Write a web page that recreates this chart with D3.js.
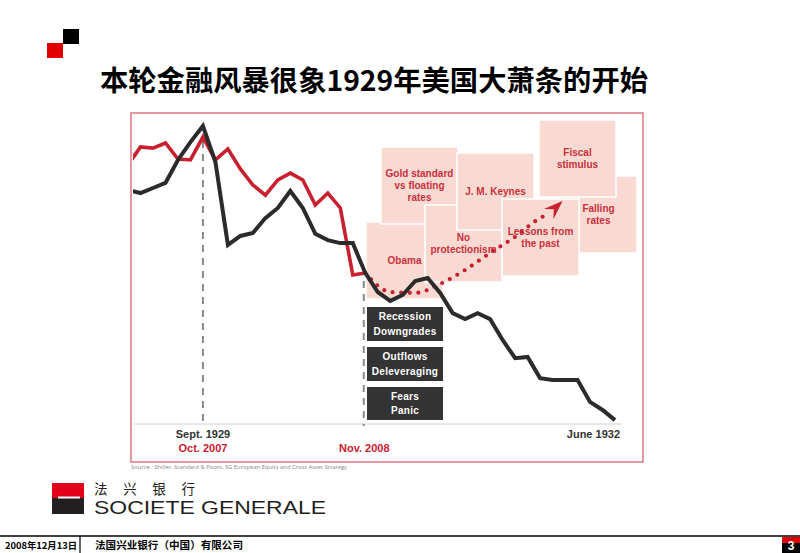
<!DOCTYPE html>
<html><head><meta charset="utf-8">
<script src="https://cdn.jsdelivr.net/npm/d3@7"></script>
<style>body{margin:0;background:#fff}svg{display:block}</style>
</head><body>
<svg id="c" width="800" height="553"></svg>
<script>
// ---------- DATA ----------
// months relative to the peak (Sept 1929 = 0, Oct 2007 = 0); index, peak of 1929 = 100
const months1929 = d3.range(-6, 34);
const index1929 = [78.5,77.5,79.2,80.9,88.6,94.6,100,87.9,60.1,63.1,64.1,69.1,72.5,78.2,72.5,63.8,61.7,60.7,60.7,50.7,
                   44.3,41.3,43.3,48.0,49.0,44.0,37.2,35.2,37.2,35.2,28.2,22.1,22.5,15.4,14.8,14.8,14.8,7.4,4.7,1.3];
const months2007 = d3.range(-6, 14);
const index2007 = [86.9,93.0,92.6,94.3,88.9,88.6,96.3,88.6,92.3,85.6,80.2,76.8,81.9,84.2,81.9,73.5,77.5,72.5,50.0,50.7];
const projMonths = [13,15,17,19,21,23,25,27,27.7];
const projIndex  = [50.7,44.3,44.0,47.0,51.7,57.4,62.8,69.1,70.5];
const arrowTip = [28.8, 74.8];

const tickMonths = [0, 13, 33];
const tickLabels1929 = ["Sept. 1929", "", "June 1932"];
const tickLabels2007 = ["Oct. 2007", "Nov. 2008", ""];

const hopeLabels = [["Obama"],["Gold standard","vs floating","rates"],["No","protectionism"],["J. M. Keynes"],
                    ["Falling","rates"],["Lessons from","the past"],["Fiscal","stimulus"]];
const fearLabels = [["Recession","Downgrades"],["Outflows","Deleveraging"],["Fears","Panic"]];

const titleText = "本轮金融风暴很象1929年美国大萧条的开始";
const sourceText = "Source : Shiller, Standard & Poors, SG European Equity and Cross Asset Strategy";

// ---------- LAYOUT ----------
const hopeBoxes = [[366,222],[381,147],[425,205],[457,153],[560,176],[502,199],[539,120]];
const boxW = 77, boxH = 77;
const fearBoxes = [[367,307,34],[367,347,34],[367,387,33]];

const RED = "#c8202f", DARK = "#2b2b2b", PINK = "#f9dad2", PINKTXT = "#c9303e";
const svg = d3.select("#c");

// corner squares
svg.append("rect").attr("x",63).attr("y",29).attr("width",16).attr("height",15).attr("fill","#000");
svg.append("rect").attr("x",47).attr("y",43).attr("width",16).attr("height",15).attr("fill","#e00000");

// title
svg.append("text").attr("x",100).attr("y",91).text(titleText)
  .attr("font-family","'Noto Sans CJK SC'").attr("font-weight","bold").attr("font-size",28)
  .attr("textLength",548).attr("lengthAdjust","spacingAndGlyphs").attr("fill","#000");

// chart frame
svg.append("rect").attr("x",131).attr("y",113).attr("width",512).attr("height",349)
  .attr("fill","#fff").attr("stroke","#d9777f").attr("stroke-width",1.5);

const x = d3.scaleLinear().domain([-6, 33]).range([128, 615]);
const y = d3.scaleLinear().domain([0, 100]).range([424, 126]);

svg.append("defs").append("clipPath").attr("id","clip")
  .append("rect").attr("x",133).attr("y",114).attr("width",508).attr("height",346);

// axis baseline
const axis = d3.axisBottom(x).tickValues([]).tickSizeOuter(0);
const ax = svg.append("g").attr("transform","translate(0,424)").call(axis);
ax.select(".domain").attr("d", `M${x(-5.5)},0H${x(33.5)}`).attr("stroke","#d0d0d0").attr("stroke-width",1);

// hope boxes
const hb = svg.append("g");
hopeLabels.forEach((lines,i)=>{
  const [bx,by] = hopeBoxes[i];
  hb.append("rect").attr("x",bx).attr("y",by).attr("width",boxW).attr("height",boxH)
    .attr("fill",PINK).attr("stroke","#fff").attr("stroke-width",1.5);
  const cy = by + boxH/2, n = lines.length;
  lines.forEach((t,j)=>{
    hb.append("text").attr("x",bx+boxW/2).attr("y",cy + (j-(n-1)/2)*12.3 + 3.6)
      .attr("text-anchor","middle").attr("font-family","'Liberation Sans',Arial").attr("font-weight","bold")
      .attr("font-size",10).attr("fill",PINKTXT).text(t);
  });
});

// fear boxes
fearLabels.forEach((lines,i)=>{
  const [bx,by,bh] = fearBoxes[i];
  svg.append("rect").attr("x",bx).attr("y",by).attr("width",76).attr("height",bh).attr("fill","#333333");
  lines.forEach((t,j)=>{
    svg.append("text").attr("x",bx+38).attr("y",by+bh/2 + (j-0.5)*14.5 + 3.6)
      .attr("text-anchor","middle").attr("font-family","'Liberation Sans',Arial").attr("font-weight","bold")
      .attr("font-size",10).attr("letter-spacing",0.3).attr("fill","#fff").text(t);
  });
});

// dashed verticals
svg.append("line").attr("x1",x(0)).attr("x2",x(0)).attr("y1",141).attr("y2",426)
  .attr("stroke","#8a8a8a").attr("stroke-width",2).attr("stroke-dasharray","7,6");
svg.append("line").attr("x1",x(13)-1.5).attr("x2",x(13)-1.5).attr("y1",281).attr("y2",426)
  .attr("stroke","#8a8a8a").attr("stroke-width",2).attr("stroke-dasharray","7,6");

const plot = svg.append("g").attr("clip-path","url(#clip)");
const line = d3.line().x(d=>x(d[0])).y(d=>y(d[1]));

plot.append("path").datum(months2007.map((m,i)=>[m,index2007[i]])).attr("d",line)
  .attr("fill","none").attr("stroke",RED).attr("stroke-width",3.6).attr("stroke-linejoin","miter");

// projected recovery (dotted)
const projLine = d3.line().x(d=>x(d[0])).y(d=>y(d[1])).curve(d3.curveMonotoneX);
plot.append("path").datum(projMonths.map((m,i)=>[m,projIndex[i]])).attr("d",projLine)
  .attr("fill","none").attr("stroke",RED).attr("stroke-width",4.2)
  .attr("stroke-linecap","round").attr("stroke-dasharray","0,8.6");

plot.append("path").datum(months1929.map((m,i)=>[m,index1929[i]])).attr("d",line)
  .attr("fill","none").attr("stroke",DARK).attr("stroke-width",4).attr("stroke-linejoin","miter");

// arrow head
{
  const tx = x(arrowTip[0]), ty = y(arrowTip[1]);
  const px = x(projMonths[projMonths.length-1]), py = y(projIndex[projIndex.length-1]);
  const ang = Math.atan2(ty-py, tx-px)*180/Math.PI;
  svg.append("path").attr("d","M0,0 L-19,-7 L-12,0 L-19,7 Z").attr("fill",RED)
    .attr("transform",`translate(${tx},${ty}) rotate(${ang})`);
}

// tick labels
tickMonths.forEach((m,i)=>{
  const anchor = i===2 ? "end" : "middle";
  const xx = i===2 ? x(m)+5 : x(m)+(i===1?-1:0);
  if (tickLabels1929[i]) svg.append("text").attr("x",xx).attr("y",438).attr("text-anchor",anchor)
    .attr("font-family","'Liberation Sans',Arial").attr("font-weight","bold").attr("font-size",11)
    .attr("fill","#333").text(tickLabels1929[i]);
  if (tickLabels2007[i]) svg.append("text").attr("x",xx).attr("y",452).attr("text-anchor",anchor)
    .attr("font-family","'Liberation Sans',Arial").attr("font-weight","bold").attr("font-size",11)
    .attr("fill",RED).text(tickLabels2007[i]);
});

// source
svg.append("text").attr("x",131).attr("y",469).text(sourceText)
  .attr("font-family","'Open Sans',sans-serif").attr("font-size",5.5).attr("fill","#888")
  .attr("textLength",216).attr("lengthAdjust","spacingAndGlyphs");

// SG logo
svg.append("rect").attr("x",52).attr("y",483).attr("width",32).attr("height",15).attr("fill","#e2001a");
svg.append("rect").attr("x",52).attr("y",498).attr("width",32).attr("height",16).attr("fill","#231f20");
svg.append("rect").attr("x",58).attr("y",496.5).attr("width",22).attr("height",2).attr("fill","#fff");
svg.append("text").attr("x",94).attr("y",493.6).text("法兴银行")
  .attr("font-family","'Noto Sans CJK SC'").attr("font-size",13.5).attr("fill","#231f20")
  .attr("textLength",101).attr("lengthAdjust","spacing");
svg.append("text").attr("x",94).attr("y",514).text("SOCIETE GENERALE")
  .attr("font-family","'Liberation Sans',Arial").attr("font-size",17.5).attr("fill","#231f20")
  .attr("textLength",232).attr("lengthAdjust","spacingAndGlyphs");

// footer
svg.append("line").attr("x1",0).attr("x2",800).attr("y1",536).attr("y2",536).attr("stroke","#000").attr("stroke-width",1.5);
svg.append("line").attr("x1",80).attr("x2",80).attr("y1",536).attr("y2",553).attr("stroke","#000").attr("stroke-width",1.2);
svg.append("text").attr("x",5).attr("y",549).text("2008年12月13日")
  .attr("font-family","'Noto Sans CJK SC'").attr("font-weight","bold").attr("font-size",9.5).attr("fill","#000")
  .attr("textLength",72).attr("lengthAdjust","spacingAndGlyphs");
svg.append("text").attr("x",95).attr("y",549).text("法国兴业银行（中国）有限公司")
  .attr("font-family","'Noto Sans CJK SC'").attr("font-weight","bold").attr("font-size",10.5).attr("fill","#000")
  .attr("textLength",148).attr("lengthAdjust","spacingAndGlyphs");
svg.append("rect").attr("x",782).attr("y",537).attr("width",18).attr("height",7).attr("fill","#e00000");
svg.append("rect").attr("x",782).attr("y",543).attr("width",18).attr("height",10).attr("fill","#000");
svg.append("text").attr("x",791).attr("y",550).attr("text-anchor","middle").text("3")
  .attr("font-family","'Liberation Sans',Arial").attr("font-weight","bold").attr("font-size",12).attr("fill","#fff");
</script>
</body></html>
